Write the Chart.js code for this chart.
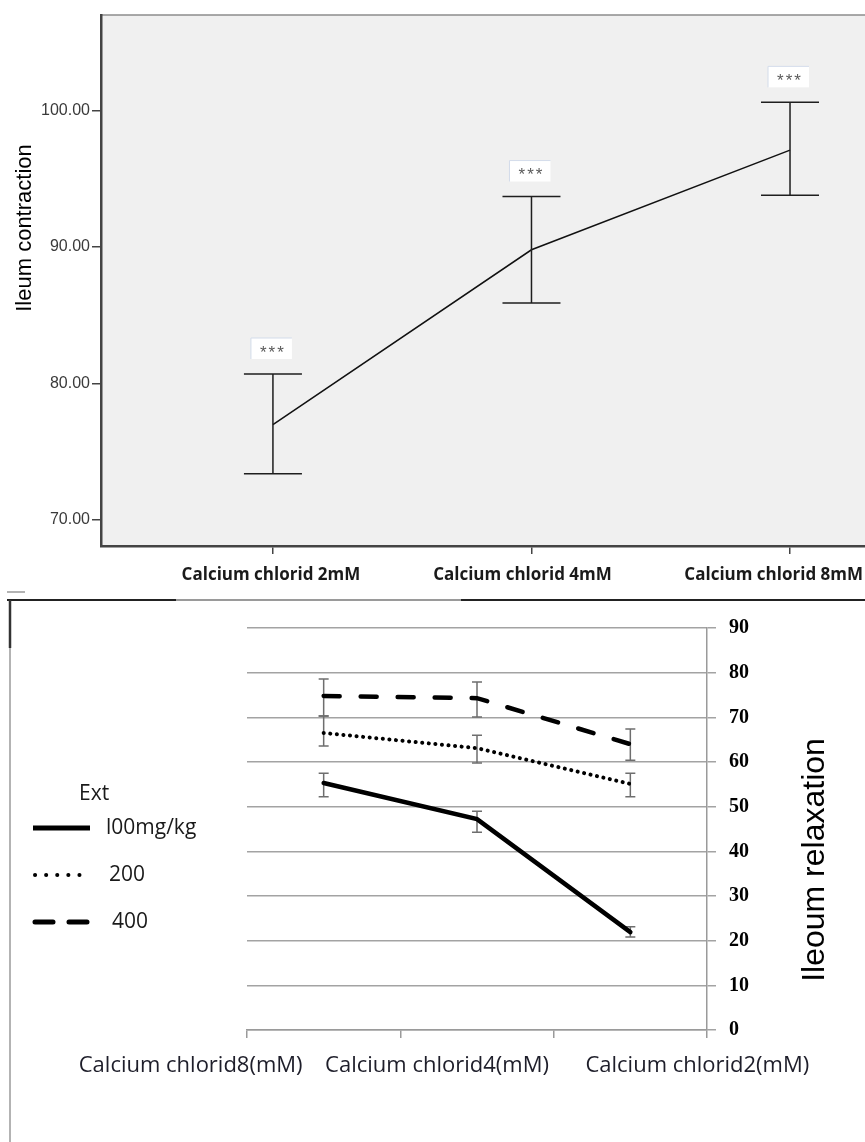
<!DOCTYPE html>
<html>
<head>
<meta charset="utf-8">
<script src="https://cdn.jsdelivr.net/npm/chart.js@4.4.0/dist/chart.umd.min.js"></script>
<style>
  html, body { margin: 0; padding: 0; background: #fff; }
  #wrap { position: relative; width: 865px; height: 1142px; overflow: hidden; }
  #topChart { position: absolute; left: 0; top: 0; }
  #bottomChart { position: absolute; left: 0; top: 590px; }
</style>
</head>
<body>
<div id="wrap">
  <canvas id="topChart" width="865" height="590"></canvas>
  <canvas id="bottomChart" width="865" height="552"></canvas>
</div>
<script>
// top chart (contraction)
const topCategories = ["Calcium chlorid 2mM", "Calcium chlorid 4mM", "Calcium chlorid 8mM"];
const topMeans = [77.0, 89.8, 97.1];
const topLow = [73.4, 85.9, 93.8];
const topHigh = [80.7, 93.7, 100.6];
const topMarks = ["***", "***", "***"];
const topTicks = [70, 80, 90, 100];

// bottom chart (relaxation)
const bottomCategories = ["Calcium chlorid8(mM)", "Calcium chlorid4(mM)", "Calcium chlorid2(mM)"];
const seriesNames = ["l00mg/kg", "200", "400"];
const ext100 = [55.3, 47.2, 21.9];
const ext100Low = [52.2, 44.3, 20.8];
const ext100High = [57.5, 49.0, 23.1];
const ext200 = [66.5, 63.1, 55.1];
const ext200Low = [63.6, 59.8, 52.2];
const ext200High = [70.3, 66.0, 57.5];
const ext400 = [74.8, 74.3, 64.0];
const ext400Low = [70.3, 70.1, 60.4];
const ext400High = [78.6, 77.9, 67.4];
const bottomTicks = [0, 10, 20, 30, 40, 50, 60, 70, 80, 90];

const topDecor = {
  id: 'topDecor',
  beforeDraw(chart) {
    const { ctx, chartArea: a } = chart;
    ctx.save();
    ctx.fillStyle = '#f0f0f0';
    ctx.fillRect(a.left, a.top, a.right - a.left, a.bottom - a.top);
    ctx.strokeStyle = '#8c8c8c';
    ctx.lineWidth = 1.5;
    ctx.beginPath();
    ctx.moveTo(a.left, a.top);
    ctx.lineTo(a.right, a.top);
    ctx.stroke();
    ctx.restore();
  },
  afterDatasetsDraw(chart) {
    const { ctx } = chart;
    const xs = chart.scales.x, ys = chart.scales.y;
    ctx.save();
    topCategories.forEach((c, i) => {
      const x = xs.getPixelForValue(i);
      const yLo = ys.getPixelForValue(topLow[i]);
      const yHi = ys.getPixelForValue(topHigh[i]);
      ctx.strokeStyle = '#1e1e1e';
      ctx.lineWidth = 1.5;
      ctx.beginPath();
      ctx.moveTo(x, yLo); ctx.lineTo(x, yHi);
      ctx.moveTo(x - 29, yLo); ctx.lineTo(x + 29, yLo);
      ctx.moveTo(x - 29, yHi); ctx.lineTo(x + 29, yHi);
      ctx.stroke();

      // significance box
      const by = yHi - 26;
      ctx.fillStyle = '#fff';
      ctx.fillRect(x - 22, by - 10, 41, 21);
      ctx.strokeStyle = '#d3dcea';
      ctx.lineWidth = 1;
      ctx.beginPath();
      ctx.moveTo(x - 22, by - 10); ctx.lineTo(x - 22, by + 11);
      ctx.moveTo(x - 22, by - 10); ctx.lineTo(x + 19, by - 10);
      ctx.stroke();
      ctx.fillStyle = '#5a5a5a';
      ctx.font = '17px "Liberation Sans"';
      ctx.textAlign = 'center';
      ctx.textBaseline = 'middle';
      if ('letterSpacing' in ctx) ctx.letterSpacing = '2px';
      ctx.fillText(topMarks[i], x, by + 5);
      if ('letterSpacing' in ctx) ctx.letterSpacing = '0px';
    });

    // category labels
    ctx.fillStyle = '#1a1a1a';
    ctx.font = 'bold 17px "Open Sans"';
    ctx.textAlign = 'center';
    ctx.textBaseline = 'middle';
    const nudge = [-2, -9, 0];
    topCategories.forEach((c, i) => {
      const w = ctx.measureText(c).width;
      let x = xs.getPixelForValue(i) + nudge[i];
      x = Math.min(x, chart.width - 2 - w / 2);
      ctx.fillText(c, x, 575);
    });

    // axis title
    ctx.translate(25, 228);
    ctx.rotate(-Math.PI / 2);
    ctx.fillStyle = '#000';
    ctx.font = '22px "Liberation Sans"';
    ctx.fillText('Ileum contraction', 0, 0);
    ctx.restore();
  }
};

new Chart(document.getElementById('topChart'), {
  type: 'line',
  data: {
    datasets: [{
      data: topMeans.map((v, i) => ({ x: i, y: v })),
      borderColor: '#111',
      borderWidth: 1.5,
      pointRadius: 0,
      tension: 0
    }]
  },
  options: {
    responsive: false,
    animation: false,
    layout: { padding: { left: 0, top: 15, right: 0, bottom: 0 } },
    plugins: { legend: { display: false }, tooltip: { enabled: false } },
    scales: {
      x: {
        type: 'linear',
        min: -0.665,
        max: 2.29,
        afterBuildTicks: s => { s.ticks = topCategories.map((c, i) => ({ value: i })); },
        afterFit: s => { s.height = 44; },
        ticks: { display: false },
        grid: { drawOnChartArea: false, drawTicks: true, tickLength: 8, color: '#444', lineWidth: 1.5 },
        border: { color: '#444', width: 2.5 }
      },
      y: {
        min: 68.1,
        max: 107,
        afterBuildTicks: s => { s.ticks = topTicks.map(v => ({ value: v })); },
        afterFit: s => { s.width = 101; },
        ticks: {
          callback: v => Number(v).toFixed(2),
          color: '#3a3a3a',
          font: { family: 'Liberation Sans', size: 16 },
          padding: 2
        },
        grid: { drawOnChartArea: false, drawTicks: true, tickLength: 9, color: '#444', lineWidth: 1.5 },
        border: { color: '#444', width: 2.5 }
      }
    }
  },
  plugins: [topDecor]
});

const errLow = [ext100Low, ext200Low, ext400Low];
const errHigh = [ext100High, ext200High, ext400High];
const legendDash = [[], [0.1, 11], [18, 16]];

const bottomDecor = {
  id: 'bottomDecor',
  beforeDraw(chart) {
    const { ctx } = chart;
    ctx.save();
    // frame of the lower panel
    ctx.lineWidth = 2;
    ctx.strokeStyle = '#222';
    ctx.beginPath();
    ctx.moveTo(7, 10); ctx.lineTo(176, 10);
    ctx.moveTo(461, 10); ctx.lineTo(865, 10);
    ctx.stroke();
    ctx.strokeStyle = '#9a9a9a';
    ctx.beginPath();
    ctx.moveTo(176, 10); ctx.lineTo(461, 10);
    ctx.stroke();
    ctx.lineWidth = 1.5;
    ctx.beginPath();
    ctx.moveTo(10, 10); ctx.lineTo(10, 552);
    ctx.moveTo(7, 2); ctx.lineTo(25, 2);
    ctx.stroke();
    ctx.strokeStyle = '#333';
    ctx.lineWidth = 2.5;
    ctx.beginPath();
    ctx.moveTo(10, 10); ctx.lineTo(10, 58);
    ctx.stroke();
    ctx.restore();
  },
  beforeDatasetsDraw(chart) {
    const { ctx } = chart;
    const xs = chart.scales.x, ys = chart.scales.y;
    ctx.save();
    ctx.strokeStyle = '#6e6e6e';
    ctx.lineWidth = 1.5;
    errLow.forEach((lows, s) => {
      lows.forEach((lo, i) => {
        const x = xs.getPixelForValue(i);
        const y1 = ys.getPixelForValue(lo);
        const y2 = ys.getPixelForValue(errHigh[s][i]);
        ctx.beginPath();
        ctx.moveTo(x, y1); ctx.lineTo(x, y2);
        ctx.moveTo(x - 5, y1); ctx.lineTo(x + 5, y1);
        ctx.moveTo(x - 5, y2); ctx.lineTo(x + 5, y2);
        ctx.stroke();
      });
    });
    ctx.restore();
  },
  afterDatasetsDraw(chart) {
    const { ctx } = chart;
    const xs = chart.scales.x;
    ctx.save();
    // legend
    ctx.fillStyle = '#1a1a1a';
    ctx.font = '21px "Open Sans"';
    ctx.textAlign = 'left';
    ctx.textBaseline = 'middle';
    ctx.fillText('Ext', 79, 204);
    chart.data.datasets.forEach((ds, i) => {
      const y = 238 + i * 47;
      ctx.strokeStyle = '#000';
      ctx.lineWidth = i === 1 ? 4 : 5;
      ctx.lineCap = i === 0 ? 'butt' : 'round';
      ctx.setLineDash(legendDash[i]);
      ctx.beginPath();
      ctx.moveTo(i === 0 ? 33 : 35, y);
      ctx.lineTo(90, y);
      ctx.stroke();
      ctx.setLineDash([]);
      ctx.fillText(ds.label, 106 + i * 3, y);
    });

    // category labels
    ctx.fillStyle = '#1e1e2a';
    ctx.font = '22px "Open Sans"';
    ctx.textAlign = 'center';
    const dx = [-133, -40, 67];
    bottomCategories.forEach((c, i) => {
      ctx.fillText(c, xs.getPixelForValue(i) + dx[i], 476);
    });

    // axis title
    ctx.translate(815, 270);
    ctx.rotate(-Math.PI / 2);
    ctx.fillStyle = '#000';
    ctx.font = '32px "Liberation Sans"';
    ctx.fillText('Ileoum relaxation', 0, 0);
    ctx.restore();
  }
};

new Chart(document.getElementById('bottomChart'), {
  type: 'line',
  data: {
    labels: bottomCategories,
    datasets: [
      { label: seriesNames[0], data: ext100, borderColor: '#000', borderWidth: 4.5, pointRadius: 0, borderCapStyle: 'round' },
      { label: seriesNames[1], data: ext200, borderColor: '#000', borderWidth: 4, pointRadius: 0, borderDash: [0.1, 6.5], borderCapStyle: 'round' },
      { label: seriesNames[2], data: ext400, borderColor: '#000', borderWidth: 4.5, pointRadius: 0, borderDash: [16, 21], borderCapStyle: 'round' }
    ]
  },
  options: {
    responsive: false,
    animation: false,
    layout: { padding: { left: 247, top: 38, right: 0, bottom: 0 } },
    plugins: { legend: { display: false }, tooltip: { enabled: false } },
    scales: {
      x: {
        type: 'category',
        offset: true,
        afterFit: s => { s.height = 112; },
        ticks: { display: false },
        grid: { offset: true, drawOnChartArea: false, drawTicks: true, tickLength: 8, color: '#9a9a9a', lineWidth: 1.5 },
        border: { color: '#9a9a9a', width: 1.5 }
      },
      y: {
        position: 'right',
        min: 0,
        max: 90,
        afterBuildTicks: s => { s.ticks = bottomTicks.map(v => ({ value: v })); },
        afterFit: s => { s.width = 158; },
        ticks: {
          color: '#000',
          font: { family: 'Liberation Serif', size: 20, weight: 'bold' },
          padding: 13
        },
        grid: { color: '#a3a3a3', lineWidth: 1.5, drawTicks: true, tickLength: 9 },
        border: { color: '#9a9a9a', width: 1.5 }
      }
    }
  },
  plugins: [bottomDecor]
});
</script>
</body>
</html>
